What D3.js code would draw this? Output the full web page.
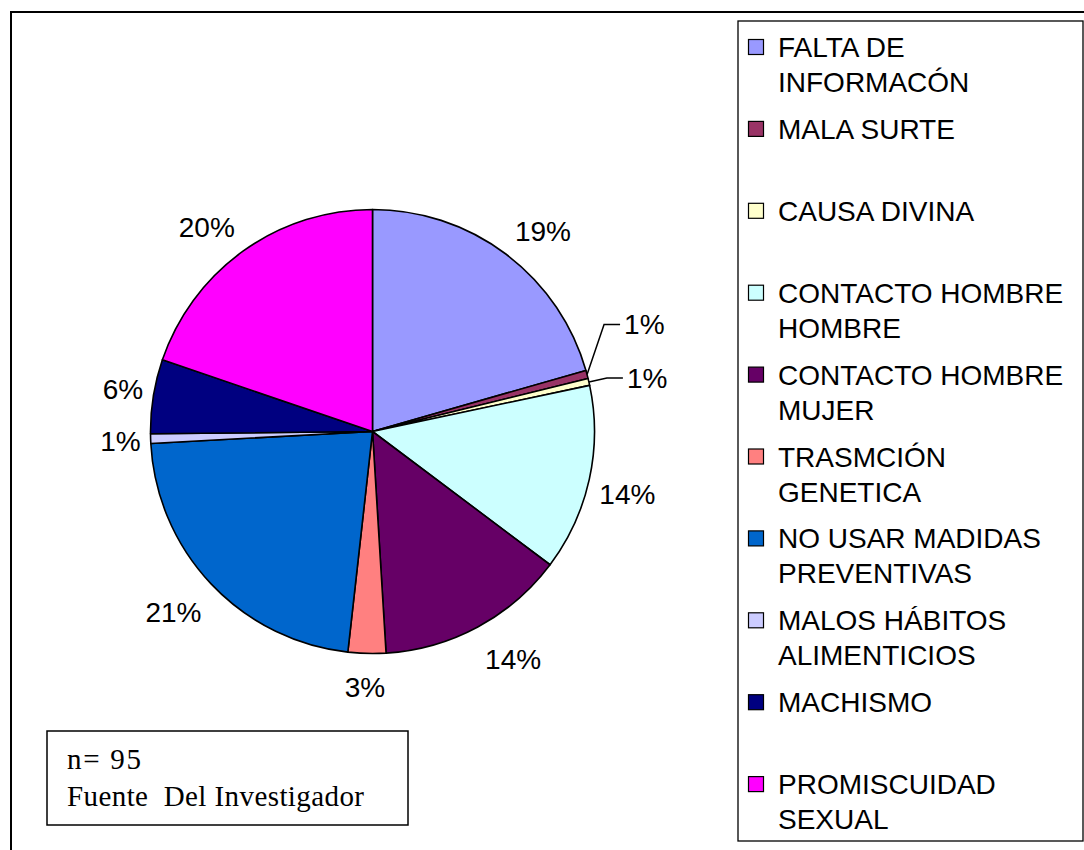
<!DOCTYPE html>
<html>
<head>
<meta charset="utf-8">
<script src="https://cdn.jsdelivr.net/npm/d3@7"></script>
<style>
  html, body { margin: 0; padding: 0; background: #fff; }
  svg { display: block; }
</style>
</head>
<body>
<svg id="chart" width="1084" height="850"></svg>
<script>
// ---- data ----
const categories = [
  ["FALTA DE", "INFORMACÓN"],
  ["MALA SURTE"],
  ["CAUSA DIVINA"],
  ["CONTACTO HOMBRE", "HOMBRE"],
  ["CONTACTO HOMBRE", "MUJER"],
  ["TRASMCIÓN", "GENETICA"],
  ["NO USAR MADIDAS", "PREVENTIVAS"],
  ["MALOS HÁBITOS", "ALIMENTICIOS"],
  ["MACHISMO"],
  ["PROMISCUIDAD", "SEXUAL"]
];
// slice sizes as drawn (share of circle, %)
const values = [20.6, 0.6, 0.5, 13.6, 13.8, 2.75, 22.4, 0.7, 5.4, 19.8];
// percentage labels as printed on the chart
const pctLabels = ["19%", "1%", "1%", "14%", "14%", "3%", "21%", "1%", "6%", "20%"];
const colors = ["#9999FF", "#993366", "#FFFFCC", "#CCFFFF", "#660066",
                "#FF8080", "#0066CC", "#CCCCFF", "#000080", "#FF00FF"];
const noteLines = ["n= 95", "Fuente  Del Investigador"];

// ---- layout ----
const svg = d3.select("#chart");
const cx = 372.5, cy = 431.5, R = 222;
const labelFont = "'Liberation Sans', Arial, sans-serif";
const labelSize = 28;

// outer frame
svg.append("rect").attr("x", 11).attr("y", 12).attr("width", 1090).attr("height", 860)
  .attr("fill", "none").attr("stroke", "#000").attr("stroke-width", 2);

// pie
const pie = d3.pie().sort(null).value(d => d).startAngle(0).endAngle(2 * Math.PI);
const arcs = pie(values);
const arc = d3.arc().innerRadius(0).outerRadius(R);
const g = svg.append("g").attr("transform", `translate(${cx},${cy})`);
g.selectAll("path").data(arcs).join("path")
  .attr("d", arc)
  .attr("fill", (d, i) => colors[i])
  .attr("stroke", "#000")
  .attr("stroke-width", 1.6)
  .attr("stroke-linejoin", "round");

// labels
const leaderLayout = { 1: { dy: -50, dx: 17 }, 2: { dy: -4, dx: 18 } };
const anchorR = R + 17;
const clamp = v => Math.max(-1, Math.min(1, v));
arcs.forEach((d, i) => {
  const mid = (d.startAngle + d.endAngle) / 2;
  const sx = Math.sin(mid), sy = -Math.cos(mid);
  if (leaderLayout[i]) {
    const L = leaderLayout[i];
    const px = sx * R, py = sy * R;
    const ex = px + L.dx, ey = py + L.dy;
    g.append("polyline")
      .attr("points", `${px},${py} ${ex},${ey} ${ex + 16},${ey}`)
      .attr("fill", "none").attr("stroke", "#000").attr("stroke-width", 1.5);
    g.append("text").attr("x", ex + 20).attr("y", ey).attr("dy", "0.35em")
      .attr("font-family", labelFont).attr("font-size", labelSize)
      .text(pctLabels[i]);
    return;
  }
  const t = g.append("text")
    .attr("font-family", labelFont).attr("font-size", labelSize)
    .attr("text-anchor", "middle").attr("dy", "0.35em")
    .text(pctLabels[i]);
  const hw = t.node().getComputedTextLength() / 2;
  const hh = sy > 0 ? 17 : 10;
  const x = sx * (anchorR - 7 * sx * sx) + hw * clamp(sx * 3);
  const y = sy * anchorR + hh * clamp(sy * 3);
  t.attr("x", x).attr("y", y);
});

// legend
svg.append("rect").attr("x", 738).attr("y", 21).attr("width", 345).attr("height", 820)
  .attr("fill", "#fff").attr("stroke", "#000").attr("stroke-width", 1.3);
const legendTop = 57, legendStep = 81.9, lineStep = 35;
categories.forEach((lines, i) => {
  const by = legendTop + i * legendStep;
  svg.append("rect").attr("x", 748.5).attr("y", by - 17.5).attr("width", 15).attr("height", 15)
    .attr("fill", colors[i]).attr("stroke", "#000").attr("stroke-width", 1.2);
  const t = svg.append("text").attr("x", 778).attr("y", by)
    .attr("font-family", labelFont).attr("font-size", labelSize);
  lines.forEach((ln, j) => {
    t.append("tspan").attr("x", 778).attr("y", by + j * lineStep).text(ln);
  });
});

// note box
svg.append("rect").attr("x", 47).attr("y", 731).attr("width", 361).attr("height", 94)
  .attr("fill", "#fff").attr("stroke", "#000").attr("stroke-width", 1.5);
const noteWidths = [74, 297];
noteLines.forEach((ln, j) => {
  svg.append("text").attr("x", 67).attr("y", 769 + j * 37)
    .attr("font-family", "'Liberation Serif', 'Times New Roman', serif")
    .attr("font-size", 29)
    .attr("xml:space", "preserve")
    .style("white-space", "pre")
    .attr("textLength", noteWidths[j])
    .attr("lengthAdjust", "spacing")
    .text(ln);
});
</script>
</body>
</html>
